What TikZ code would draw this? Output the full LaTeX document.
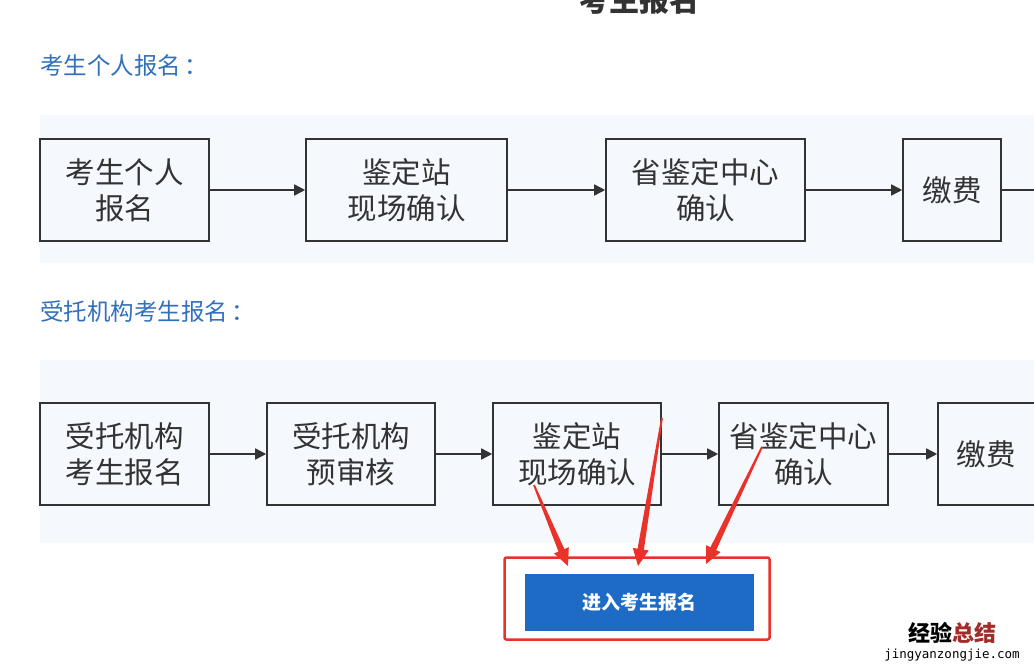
\documentclass[tikz,border=0pt]{standalone}
\usepackage{fontspec}
\setmainfont{Noto Sans CJK SC}
\newfontfamily\wmmono{DejaVu Sans Mono}
\usetikzlibrary{arrows.meta,calc}
\definecolor{band}{HTML}{F5F9FD}
\definecolor{ink}{HTML}{333333}
\definecolor{lbl}{HTML}{3170BE}
\definecolor{btn}{HTML}{1E6BC6}
\definecolor{redc}{HTML}{E8322A}
\definecolor{wmred}{HTML}{A52A2A}
\tikzset{
  stepbox/.style={draw=ink, line width=1.6pt, fill=band, text=ink, inner sep=0pt,
    minimum height=102pt, align=center, font=\fontsize{29.5}{36}\selectfont},
  flow/.style={draw=ink, line width=1.6pt, -{Triangle[length=11pt,width=11pt]}},
  lbltext/.style={text=lbl, anchor=west, inner sep=0pt, font=\fontsize{23.5}{27}\selectfont},
}
\newcommand\myredarrow[2]{%
  \coordinate (tmpb) at ($(#2)!17pt!(#1)$);
  \fill[redc] ($(#1)!0.9pt!90:(#2)$) -- ($(tmpb)!3.2pt!-90:(#1)$) -- ($(tmpb)!8pt!-90:(#1)$)
    -- (#2) -- ($(tmpb)!8pt!90:(#1)$) -- ($(tmpb)!3.2pt!90:(#1)$) -- ($(#1)!0.9pt!-90:(#2)$) -- cycle;}
\begin{document}
\begin{tikzpicture}[x=1pt,y=-1pt]
\useasboundingbox (0,0) rectangle (1034,669);
\clip (0,0) rectangle (1034,669);
\fill[white] (0,0) rectangle (1034,669);
% title (cut off at top)
\node[text=ink, font=\fontsize{30}{34}\selectfont\bfseries, inner sep=0pt] (title) at (639,0) {考生报名};
% section labels
\node[lbltext] (lab1) at (40,66) {考生个人报名\hspace{3pt}：};
\node[lbltext] (lab2) at (40,312) {受托机构考生报名\hspace{3pt}：};
% bands
\fill[band] (40,115) rectangle (1034,263);
\fill[band] (40,360) rectangle (1034,543);
% top row
\node[stepbox, minimum width=169pt] (a1) at (124.5,190) {考生个人\\报名};
\node[stepbox, minimum width=201pt] (a2) at (406.5,190) {鉴定站\\现场确认};
\node[stepbox, minimum width=199pt] (a3) at (705.5,190) {省鉴定中心\\确认};
\node[stepbox, minimum width=98pt] (a4) at (952,190) {缴费};
\coordinate (aend) at (1040,190);
\draw[flow] (a1) -- (a2);
\draw[flow] (a2) -- (a3);
\draw[flow] (a3) -- (a4);
\draw[draw=ink, line width=1.6pt] (a4.east) -- (aend);
% bottom row
\node[stepbox, minimum width=169pt] (b1) at (124.5,454) {受托机构\\考生报名};
\node[stepbox, minimum width=168pt] (b2) at (351,454) {受托机构\\预审核};
\node[stepbox, minimum width=168pt] (b3) at (577,454) {鉴定站\\现场确认};
\node[stepbox, minimum width=169pt] (b4) at (803.5,454) {省鉴定中心\\确认};
\node[stepbox, minimum width=104pt] (b5) at (990,454) {\hspace*{-4pt}缴费\hspace*{4pt}};
\draw[flow] (b1) -- (b2);
\draw[flow] (b2) -- (b3);
\draw[flow] (b3) -- (b4);
\draw[flow] (b4) -- (b5);
% button
\node[draw=redc, line width=2.5pt, rounded corners=2pt, minimum width=265pt, minimum height=82pt, inner sep=0pt] (frame) at (637,598.5) {};
\node[fill=btn, text=white, minimum width=229pt, minimum height=57pt, inner sep=0pt,
  font=\fontsize{19}{22}\selectfont\bfseries] (btn) at (639.5,602.5) {进入考生报名};
% red arrows
\coordinate (r1s) at (534,485);
\coordinate (r1e) at (568,566);
\coordinate (r2s) at (662,418);
\coordinate (r2e) at (638,566);
\coordinate (r3s) at (762,447);
\coordinate (r3e) at (706,564);
\myredarrow{r1s}{r1e}
\myredarrow{r2s}{r2e}
\myredarrow{r3s}{r3e}
% watermark
\node[inner sep=0pt, font=\fontsize{22}{24}\selectfont\bfseries] (wm1) at (952,633) {经验\textcolor{wmred}{总结}};
\node[inner sep=0pt, font=\wmmono\fontsize{12.5}{14}\selectfont] (wm2) at (952,655) {jingyanzongjie.com};
\end{tikzpicture}
\end{document}
